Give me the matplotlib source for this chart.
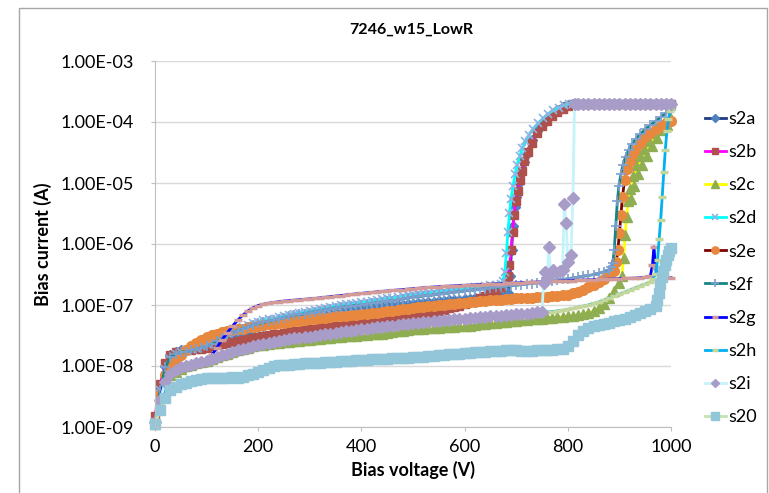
import matplotlib.pyplot as plt
import numpy as np
from matplotlib.patches import Rectangle
from matplotlib.ticker import FixedLocator, FuncFormatter

plt.rcParams['font.family'] = ['Lato', 'DejaVu Sans']

# before breakdown every series is sampled at 0, 10, 20 ... V;
# the *_tail lists hold the finer steps of the breakdown and after it
plateau_v = [820, 830, 840, 850, 860, 870, 880, 890, 900, 910,
             920, 930, 940, 950, 960, 970, 980, 990, 1000]
plateau_i = [2.0e-4, 2.0e-4, 2.0e-4, 2.0e-4, 2.0e-4, 2.0e-4, 2.0e-4, 2.0e-4, 2.0e-4, 2.0e-4,
             2.0e-4, 2.0e-4, 2.0e-4, 2.0e-4, 2.0e-4, 2.0e-4, 2.0e-4, 2.0e-4, 2.0e-4]

s2a_pre = [1.3e-9, 4.5e-9, 1.0e-8, 1.5e-8, 1.7e-8, 1.8e-8, 1.8e-8, 1.9e-8, 2.0e-8, 2.1e-8, 2.2e-8,
           2.4e-8, 2.6e-8, 2.8e-8, 3.0e-8, 3.2e-8, 3.4e-8, 3.6e-8, 3.8e-8, 4.1e-8, 4.4e-8,
           4.6e-8, 4.8e-8, 5.0e-8, 5.2e-8, 5.4e-8, 5.6e-8, 5.8e-8, 6.0e-8, 6.3e-8, 6.5e-8,
           6.7e-8, 6.9e-8, 7.1e-8, 7.3e-8, 7.5e-8, 7.7e-8, 7.9e-8, 8.1e-8, 8.3e-8, 8.5e-8,
           8.7e-8, 8.9e-8, 9.1e-8, 9.3e-8, 9.5e-8, 9.7e-8, 9.9e-8, 1.01e-7, 1.03e-7, 1.05e-7,
           1.07e-7, 1.09e-7, 1.11e-7, 1.13e-7, 1.15e-7, 1.17e-7, 1.19e-7, 1.21e-7, 1.23e-7, 1.25e-7,
           1.27e-7, 1.29e-7, 1.31e-7, 1.33e-7, 1.35e-7, 1.37e-7, 1.39e-7, 1.42e-7]
s2a_tail_v = [685, 688, 691, 694, 697, 700, 705, 710, 715, 720, 730, 740, 750, 760, 770, 780, 790, 800, 810]
s2a_tail_i = [1.6e-7, 3e-7, 8e-7, 2e-6, 4e-6, 6e-6, 1e-5, 1.5e-5, 2.2e-5, 3e-5, 5e-5, 7e-5, 9e-5,
              1.15e-4, 1.35e-4, 1.55e-4, 1.75e-4, 1.9e-4, 2e-4]

s2b_pre = [1.5e-9, 5e-9, 1.1e-8, 1.5e-8, 1.7e-8, 1.7e-8, 1.8e-8, 1.8e-8, 1.9e-8, 1.9e-8, 2.0e-8,
           2.1e-8, 2.2e-8, 2.3e-8, 2.4e-8, 2.5e-8, 2.6e-8, 2.7e-8, 2.8e-8, 2.9e-8, 3.0e-8,
           3.1e-8, 3.2e-8, 3.3e-8, 3.4e-8, 3.5e-8, 3.6e-8, 3.7e-8, 3.8e-8, 3.9e-8, 4.0e-8,
           4.1e-8, 4.2e-8, 4.3e-8, 4.4e-8, 4.5e-8, 4.6e-8, 4.7e-8, 4.8e-8, 4.9e-8, 5.0e-8,
           5.1e-8, 5.2e-8, 5.3e-8, 5.4e-8, 5.5e-8, 5.6e-8, 5.8e-8, 6.0e-8, 6.2e-8, 6.4e-8,
           6.6e-8, 6.9e-8, 7.2e-8, 7.6e-8, 8.0e-8, 8.4e-8, 8.8e-8, 9.3e-8, 9.8e-8, 1.04e-7,
           1.1e-7, 1.18e-7, 1.28e-7, 1.4e-7, 1.55e-7, 1.75e-7, 2.0e-7, 2.4e-7]
s2b_tail_v = [684, 687, 690, 693, 696, 699, 703, 707, 711, 716, 722, 730, 740, 750, 760, 770, 780, 790,
              800, 810]
s2b_tail_i = [3e-7, 4.5e-7, 8e-7, 1.6e-6, 3e-6, 5e-6, 7.5e-6, 1.1e-5, 1.6e-5, 2.3e-5, 3.2e-5, 4.6e-5,
              6.5e-5, 8.5e-5, 1.05e-4, 1.25e-4, 1.45e-4, 1.65e-4, 1.85e-4, 2e-4]

s2c_pre = [1.1e-9, 2.5e-9, 5e-9, 7e-9, 8e-9, 9e-9, 1.0e-8, 1.05e-8, 1.1e-8, 1.15e-8, 1.2e-8,
           1.3e-8, 1.4e-8, 1.5e-8, 1.6e-8, 1.7e-8, 1.8e-8, 1.9e-8, 2.0e-8, 2.1e-8, 2.2e-8,
           2.25e-8, 2.3e-8, 2.35e-8, 2.4e-8, 2.45e-8, 2.5e-8, 2.55e-8, 2.6e-8, 2.65e-8, 2.7e-8,
           2.75e-8, 2.8e-8, 2.85e-8, 2.9e-8, 2.95e-8, 3.0e-8, 3.05e-8, 3.1e-8, 3.15e-8, 3.2e-8,
           3.25e-8, 3.3e-8, 3.35e-8, 3.4e-8, 3.5e-8, 3.6e-8, 3.7e-8, 3.8e-8, 3.9e-8, 4.0e-8,
           4.05e-8, 4.1e-8, 4.15e-8, 4.2e-8, 4.25e-8, 4.3e-8, 4.35e-8, 4.4e-8, 4.45e-8, 4.5e-8,
           4.6e-8, 4.7e-8, 4.8e-8, 4.9e-8, 5.0e-8, 5.1e-8, 5.2e-8, 5.3e-8, 5.4e-8, 5.5e-8,
           5.6e-8, 5.7e-8, 5.8e-8, 5.9e-8, 6.0e-8, 6.1e-8, 6.2e-8, 6.3e-8, 6.4e-8, 6.5e-8,
           6.7e-8, 6.9e-8, 7.1e-8, 7.4e-8, 8.0e-8, 9.0e-8, 1.05e-7, 1.3e-7, 1.7e-7, 2.3e-7]
s2c_tail_v = [905, 908, 911, 914, 917, 920, 923, 926, 929, 932, 936, 940, 944, 948, 953, 958, 963, 968,
              973, 978, 983, 988, 993, 998]
s2c_tail_i = [3e-7, 6e-7, 1.4e-6, 2.8e-6, 5e-6, 8e-6, 5.5e-6, 1.3e-5, 9e-6, 2e-5, 1.4e-5, 2.8e-5, 2e-5,
              3.6e-5, 2.8e-5, 4.8e-5, 4e-5, 6.5e-5, 5.5e-5, 8e-5, 7.5e-5, 1e-4, 9e-5, 1.2e-4]

s2d_pre = [1.2e-9, 4e-9, 9e-9, 1.3e-8, 1.6e-8, 1.7e-8, 1.8e-8, 1.9e-8, 2.0e-8, 2.1e-8, 2.3e-8,
           2.6e-8, 2.9e-8, 3.2e-8, 3.5e-8, 3.8e-8, 4.1e-8, 4.4e-8, 4.7e-8, 5.0e-8, 5.3e-8,
           5.6e-8, 5.8e-8, 6.0e-8, 6.3e-8, 6.6e-8, 6.9e-8, 7.2e-8, 7.5e-8, 7.8e-8, 8.1e-8,
           8.4e-8, 8.7e-8, 9.0e-8, 9.3e-8, 9.6e-8, 9.9e-8, 1.02e-7, 1.05e-7, 1.08e-7, 1.11e-7,
           1.14e-7, 1.17e-7, 1.2e-7, 1.24e-7, 1.28e-7, 1.32e-7, 1.36e-7, 1.4e-7, 1.44e-7, 1.48e-7,
           1.52e-7, 1.56e-7, 1.6e-7, 1.64e-7, 1.68e-7, 1.72e-7, 1.76e-7, 1.8e-7, 1.84e-7, 1.88e-7,
           1.92e-7, 1.96e-7, 2.0e-7, 2.05e-7, 2.1e-7, 2.15e-7, 2.2e-7]
s2d_tail_v = [675, 678, 681, 684, 687, 690, 694, 698, 702, 707, 712, 718, 725, 733, 742, 752, 762, 772,
              782, 792, 802, 810]
s2d_tail_i = [2.5e-7, 3.5e-7, 7e-7, 1.6e-6, 3.2e-6, 5.5e-6, 9e-6, 1.4e-5, 2e-5, 2.8e-5, 3.7e-5, 4.8e-5,
              6.2e-5, 7.8e-5, 9.5e-5, 1.15e-4, 1.35e-4, 1.55e-4, 1.72e-4, 1.88e-4, 2e-4, 2e-4]

s2e_pre = [1.2e-9, 3.5e-9, 7e-9, 1.0e-8, 1.2e-8, 1.5e-8, 1.8e-8, 2.1e-8, 2.4e-8, 2.7e-8, 3.0e-8,
           3.2e-8, 3.4e-8, 3.6e-8, 3.8e-8, 3.9e-8, 4.0e-8, 4.1e-8, 4.3e-8, 4.4e-8, 4.6e-8,
           4.7e-8, 4.8e-8, 4.9e-8, 5.0e-8, 5.1e-8, 5.3e-8, 5.4e-8, 5.5e-8, 5.7e-8, 5.8e-8,
           6.0e-8, 6.1e-8, 6.2e-8, 6.4e-8, 6.5e-8, 6.6e-8, 6.7e-8, 6.8e-8, 6.9e-8, 7.0e-8,
           7.2e-8, 7.4e-8, 7.5e-8, 7.7e-8, 7.9e-8, 8.1e-8, 8.3e-8, 8.5e-8, 8.7e-8, 8.9e-8,
           9.1e-8, 9.3e-8, 9.5e-8, 9.7e-8, 9.9e-8, 1.01e-7, 1.03e-7, 1.05e-7, 1.07e-7, 1.09e-7,
           1.11e-7, 1.13e-7, 1.15e-7, 1.17e-7, 1.19e-7, 1.21e-7, 1.23e-7, 1.25e-7, 1.27e-7, 1.29e-7,
           1.3e-7, 1.31e-7, 1.32e-7, 1.33e-7, 1.34e-7, 1.36e-7, 1.38e-7, 1.41e-7, 1.44e-7, 1.48e-7,
           1.55e-7, 1.65e-7, 1.78e-7, 1.95e-7, 2.15e-7, 2.4e-7, 2.7e-7, 3.1e-7, 3.6e-7]
s2e_tail_v = [894, 897, 900, 903, 906, 910, 915, 920, 925, 930, 940, 950, 960, 970, 980, 990, 1000]
s2e_tail_i = [5e-7, 8e-7, 1.5e-6, 3e-6, 6e-6, 1.1e-5, 1.7e-5, 2.3e-5, 2.9e-5, 3.5e-5, 4.6e-5, 5.6e-5,
              6.6e-5, 7.6e-5, 8.6e-5, 9.6e-5, 1.05e-4]

s2f_pre = [1.3e-9, 4e-9, 9.5e-9, 1.4e-8, 1.6e-8, 1.7e-8, 1.7e-8, 1.8e-8, 1.9e-8, 2.0e-8, 2.1e-8,
           2.3e-8, 2.6e-8, 2.9e-8, 3.2e-8, 3.5e-8, 3.8e-8, 4.1e-8, 4.4e-8, 4.7e-8, 5.0e-8,
           5.2e-8, 5.4e-8, 5.6e-8, 5.9e-8, 6.2e-8, 6.5e-8, 6.8e-8, 7.0e-8, 7.2e-8, 7.5e-8,
           7.8e-8, 8.1e-8, 8.4e-8, 8.7e-8, 9.0e-8, 9.2e-8, 9.4e-8, 9.6e-8, 9.8e-8, 1.0e-7,
           1.03e-7, 1.06e-7, 1.09e-7, 1.12e-7, 1.15e-7, 1.18e-7, 1.21e-7, 1.25e-7, 1.3e-7, 1.35e-7,
           1.38e-7, 1.41e-7, 1.44e-7, 1.47e-7, 1.5e-7, 1.54e-7, 1.58e-7, 1.62e-7, 1.66e-7, 1.7e-7,
           1.74e-7, 1.78e-7, 1.82e-7, 1.86e-7, 1.9e-7, 1.94e-7, 1.98e-7, 2.02e-7, 2.06e-7, 2.1e-7,
           2.15e-7, 2.2e-7, 2.25e-7, 2.3e-7, 2.36e-7, 2.42e-7, 2.48e-7, 2.55e-7, 2.62e-7, 2.7e-7,
           2.78e-7, 2.86e-7, 2.95e-7, 3.05e-7, 3.15e-7, 3.3e-7, 3.5e-7, 3.8e-7]
s2f_tail_v = [884, 887, 890, 893, 896, 899, 903, 907, 912, 918, 925, 932, 940, 950, 960, 970, 980, 990, 1000]
s2f_tail_i = [4.2e-7, 4.8e-7, 8e-7, 2e-6, 5e-6, 9e-6, 1.4e-5, 2e-5, 2.7e-5, 3.5e-5, 4.4e-5, 5.3e-5,
              6.3e-5, 7.6e-5, 8.9e-5, 1.03e-4, 1.2e-4, 1.4e-4, 1.6e-4]

s2g_pre = [1.2e-9, 3e-9, 6e-9, 8e-9, 9e-9, 1.0e-8, 1.05e-8, 1.1e-8, 1.15e-8, 1.2e-8, 1.2e-8,
           1.5e-8, 2.0e-8, 2.7e-8, 3.5e-8, 4.5e-8, 5.6e-8, 6.8e-8, 8.0e-8, 9.0e-8, 9.8e-8,
           1.03e-7, 1.07e-7, 1.1e-7, 1.13e-7, 1.16e-7, 1.18e-7, 1.2e-7, 1.22e-7, 1.24e-7, 1.26e-7,
           1.28e-7, 1.31e-7, 1.34e-7, 1.37e-7, 1.4e-7, 1.43e-7, 1.46e-7, 1.49e-7, 1.52e-7, 1.55e-7,
           1.58e-7, 1.61e-7, 1.64e-7, 1.67e-7, 1.7e-7, 1.73e-7, 1.76e-7, 1.79e-7, 1.82e-7, 1.85e-7,
           1.88e-7, 1.91e-7, 1.94e-7, 1.97e-7, 2.0e-7, 2.02e-7, 2.04e-7, 2.06e-7, 2.08e-7, 2.1e-7,
           2.12e-7, 2.14e-7, 2.16e-7, 2.18e-7, 2.2e-7, 2.22e-7, 2.24e-7, 2.26e-7, 2.28e-7, 2.3e-7,
           2.32e-7, 2.34e-7, 2.36e-7, 2.38e-7, 2.4e-7, 2.42e-7, 2.44e-7, 2.46e-7, 2.48e-7, 2.5e-7,
           2.52e-7, 2.54e-7, 2.56e-7, 2.58e-7, 2.6e-7, 2.62e-7, 2.64e-7, 2.66e-7, 2.68e-7, 2.7e-7,
           2.72e-7, 2.74e-7, 2.76e-7, 2.8e-7, 2.85e-7, 3.0e-7]
s2g_tail_v = [964, 967, 970, 973, 980, 990, 1000]
s2g_tail_i = [4.5e-7, 9e-7, 4e-7, 3.2e-7, 3e-7, 2.9e-7, 2.8e-7]

s2h_pre = [1.1e-9, 2.5e-9, 5e-9, 7e-9, 8e-9, 9e-9, 9.5e-9, 1.0e-8, 1.05e-8, 1.1e-8, 1.15e-8,
           1.2e-8, 1.3e-8, 1.4e-8, 1.5e-8, 1.6e-8, 1.7e-8, 1.8e-8, 1.9e-8, 2.0e-8, 2.1e-8,
           2.2e-8, 2.3e-8, 2.4e-8, 2.5e-8, 2.6e-8, 2.7e-8, 2.8e-8, 2.9e-8, 3.0e-8, 3.1e-8,
           3.2e-8, 3.3e-8, 3.4e-8, 3.5e-8, 3.6e-8, 3.7e-8, 3.8e-8, 3.9e-8, 4.0e-8, 4.1e-8,
           4.2e-8, 4.3e-8, 4.4e-8, 4.5e-8, 4.6e-8, 4.7e-8, 4.8e-8, 4.9e-8, 5.0e-8, 5.1e-8,
           5.2e-8, 5.3e-8, 5.4e-8, 5.5e-8, 5.6e-8, 5.7e-8, 5.8e-8, 5.9e-8, 6.0e-8, 6.1e-8,
           6.2e-8, 6.3e-8, 6.4e-8, 6.5e-8, 6.6e-8, 6.7e-8, 6.8e-8, 6.9e-8, 7.0e-8, 7.1e-8,
           7.2e-8, 7.3e-8, 7.4e-8, 7.5e-8, 7.6e-8, 7.7e-8, 7.8e-8, 8.0e-8, 8.2e-8, 8.5e-8,
           8.8e-8, 9.2e-8, 9.6e-8, 1.0e-7, 1.06e-7, 1.12e-7, 1.2e-7, 1.3e-7, 1.4e-7, 1.5e-7,
           1.62e-7, 1.75e-7, 1.9e-7, 2.05e-7, 2.2e-7, 2.4e-7]
s2h_tail_v = [965, 970, 974, 977, 980, 983, 986, 989, 992, 995, 998, 1000]
s2h_tail_i = [2.7e-7, 3.2e-7, 5.5e-7, 1.2e-6, 2.5e-6, 6e-6, 1.5e-5, 3.5e-5, 7e-5, 1.1e-4, 1.5e-4, 1.7e-4]

s2i_pre = [1.2e-9, 2.8e-9, 5.5e-9, 7.5e-9, 8.5e-9, 9.5e-9, 1.0e-8, 1.05e-8, 1.1e-8, 1.15e-8, 1.2e-8,
           1.3e-8, 1.4e-8, 1.5e-8, 1.6e-8, 1.7e-8, 1.8e-8, 1.9e-8, 2.0e-8, 2.1e-8, 2.2e-8,
           2.3e-8, 2.4e-8, 2.5e-8, 2.6e-8, 2.7e-8, 2.8e-8, 2.85e-8, 2.9e-8, 2.95e-8, 3.0e-8,
           3.1e-8, 3.2e-8, 3.3e-8, 3.4e-8, 3.5e-8, 3.6e-8, 3.7e-8, 3.8e-8, 3.9e-8, 4.0e-8,
           4.1e-8, 4.2e-8, 4.3e-8, 4.4e-8, 4.5e-8, 4.6e-8, 4.7e-8, 4.8e-8, 4.9e-8, 5.0e-8,
           5.1e-8, 5.2e-8, 5.3e-8, 5.4e-8, 5.5e-8, 5.6e-8, 5.7e-8, 5.8e-8, 5.9e-8, 6.0e-8,
           6.1e-8, 6.2e-8, 6.3e-8, 6.4e-8, 6.5e-8, 6.6e-8, 6.7e-8, 6.8e-8, 6.9e-8, 7.0e-8,
           7.1e-8, 7.2e-8, 7.4e-8, 7.6e-8, 7.8e-8]
s2i_tail_v = [753, 756, 760, 763, 767, 772, 778, 784, 790, 793, 797, 800, 806, 810, 813]
s2i_tail_i = [2.3e-7, 3.5e-7, 2.8e-7, 9e-7, 3.3e-7, 3.8e-7, 3.4e-7, 3.6e-7, 3.8e-7, 4.5e-6, 2.2e-6,
              5e-7, 6.5e-7, 5.7e-6, 2e-4]

s20_pre = [1.1e-9, 1.9e-9, 3.0e-9, 4.0e-9, 4.5e-9, 5.0e-9, 5.3e-9, 5.6e-9, 5.9e-9, 6.1e-9, 6.3e-9,
           6.3e-9, 6.4e-9, 6.3e-9, 6.4e-9, 6.5e-9, 6.4e-9, 6.6e-9, 7.0e-9, 7.5e-9, 8.0e-9,
           8.7e-9, 9.3e-9, 1.0e-8, 1.02e-8, 1.04e-8, 1.05e-8, 1.07e-8, 1.08e-8, 1.1e-8, 1.1e-8,
           1.12e-8, 1.13e-8, 1.15e-8, 1.16e-8, 1.18e-8, 1.2e-8, 1.2e-8, 1.22e-8, 1.24e-8, 1.25e-8,
           1.27e-8, 1.28e-8, 1.3e-8, 1.3e-8, 1.32e-8, 1.33e-8, 1.35e-8, 1.36e-8, 1.37e-8, 1.38e-8,
           1.4e-8, 1.42e-8, 1.45e-8, 1.47e-8, 1.5e-8, 1.52e-8, 1.55e-8, 1.57e-8, 1.6e-8, 1.62e-8,
           1.65e-8, 1.67e-8, 1.7e-8, 1.72e-8, 1.75e-8, 1.77e-8, 1.78e-8, 1.8e-8, 1.8e-8, 1.8e-8,
           1.78e-8, 1.77e-8, 1.78e-8, 1.8e-8, 1.8e-8, 1.82e-8, 1.85e-8, 1.87e-8, 1.9e-8, 2.1e-8,
           2.6e-8, 3.2e-8, 3.8e-8, 4.2e-8, 4.5e-8, 4.7e-8, 4.9e-8, 5.1e-8, 5.4e-8, 5.7e-8,
           6.0e-8, 6.4e-8, 6.8e-8, 7.3e-8, 7.9e-8, 8.6e-8, 9.5e-8]
s20_tail_v = [973, 976, 979, 982, 985, 988, 991, 994, 997, 1000]
s20_tail_i = [1.2e-7, 1.6e-7, 2.2e-7, 2.9e-7, 3.6e-7, 4.6e-7, 5.5e-7, 6.5e-7, 7.8e-7, 8.6e-7]

labels = ['s2a', 's2b', 's2c', 's2d', 's2e', 's2f', 's2g', 's2h', 's2i', 's20']


def join(pre, tail_v, tail_i, plateau=False):
    """Склейка развёртки по 10 В с хвостом после пробоя"""
    v = list(np.arange(len(pre)) * 10) + tail_v
    i = pre + tail_i
    if plateau:
        v = v + plateau_v
        i = i + plateau_i
    return v, i


curves = [
    join(s2a_pre, s2a_tail_v, s2a_tail_i, True),
    join(s2b_pre, s2b_tail_v, s2b_tail_i, True),
    join(s2c_pre, s2c_tail_v, s2c_tail_i),
    join(s2d_pre, s2d_tail_v, s2d_tail_i, True),
    join(s2e_pre, s2e_tail_v, s2e_tail_i),
    join(s2f_pre, s2f_tail_v, s2f_tail_i),
    join(s2g_pre, s2g_tail_v, s2g_tail_i),
    join(s2h_pre, s2h_tail_v, s2h_tail_i),
    join(s2i_pre, s2i_tail_v, s2i_tail_i, True),
    join(s20_pre, s20_tail_v, s20_tail_i),
]

styles = [
    dict(color='#1F3C88', marker='D', mfc='#4F81BD', mec='#4F81BD', ms=5),
    dict(color='#FF00FF', marker='s', mfc='#B0504C', mec='#B0504C', ms=5.5),
    dict(color='#FFFF00', marker='^', mfc='#8FAE52', mec='#8FAE52', ms=7),
    dict(color='#00FFFF', marker='x', mec='#8DB3E2', ms=6, mew=1.2),
    dict(color='#800000', marker='o', mfc='#E8883F', mec='#E8883F', ms=7),
    dict(color='#168585', marker='+', mec='#7F9FCF', ms=7, mew=1.2),
    dict(color='#0000FF', marker='_', mec='#D39A9A', ms=6, mew=2.5),
    dict(color='#00B0F0', marker='_', mec='#C4D79B', ms=6, mew=2.5),
    dict(color='#C5F3FA', marker='D', mfc='#A89CC8', mec='#A89CC8', ms=6),
    dict(color='#C3E3B0', marker='s', mfc='#93C6D8', mec='#93C6D8', ms=7),
]

fig = plt.figure(figsize=(7.69, 4.93), dpi=100)
ax = fig.add_axes([155 / 769, 1 - 427 / 493, 516 / 769, 366 / 493])

for (v, i), st, lab in zip(curves, styles, labels):
    ax.plot(v, i, lw=2, label=lab, clip_on=False, **st)

ax.set_yscale('log')
ax.set_ylim(1e-9, 1e-3)
ax.set_xlim(0, 1000)
ax.yaxis.set_major_locator(FixedLocator([1e-9, 1e-8, 1e-7, 1e-6, 1e-5, 1e-4, 1e-3]))
ax.yaxis.set_minor_locator(FixedLocator([]))
ax.yaxis.set_major_formatter(FuncFormatter(lambda y, p: f"{y:.2E}"))
ax.set_xticks([0, 200, 400, 600, 800, 1000])
ax.grid(axis='y', color='#D9D9D9', lw=1)
ax.set_axisbelow(True)
for s in ['top', 'right']:
    ax.spines[s].set_visible(False)
for s in ['left', 'bottom']:
    ax.spines[s].set_color('#BFBFBF')
ax.tick_params(colors='#BFBFBF', labelcolor='black', labelsize=13, length=3)
ax.tick_params(axis='y', pad=12)
ax.tick_params(axis='x', pad=6)

ax.set_xlabel('Bias voltage (V)', fontsize=13, fontweight='bold', labelpad=4)
ax.set_ylabel('Bias current (A)', fontsize=13, fontweight='bold', labelpad=6)
fig.text(411 / 769, 1 - 30 / 493, '7246_w15_LowR', ha='center', va='center',
         fontsize=11.5, fontweight='bold')

fig.legend(loc='upper left', bbox_to_anchor=(705 / 769, 1 - 111 / 493), frameon=False,
           fontsize=13, handlelength=1.15, handletextpad=0.15, labelspacing=0.95,
           borderpad=0, borderaxespad=0, markerscale=0.75)

fig.patches.append(Rectangle((19 / 769, -0.05), 748 / 769, 1.05 - 8 / 493,
                             transform=fig.transFigure, fill=False, ec='#A6A6A6', lw=1))

plt.savefig('out.png', dpi=100)
